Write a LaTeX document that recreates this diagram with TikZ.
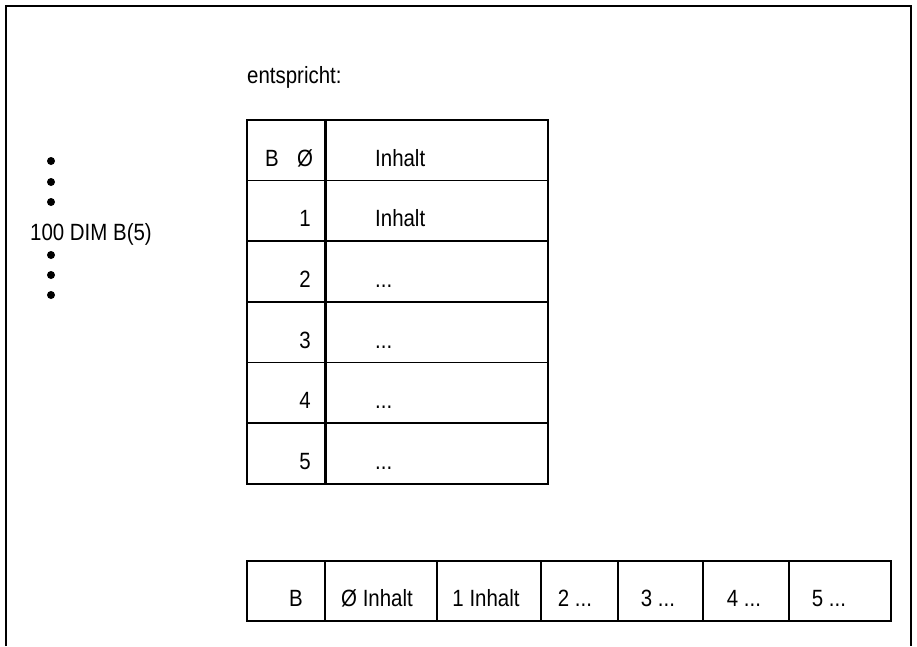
\documentclass[tikz,border=0pt]{standalone}
\usepackage{fontspec}
\setmainfont{Liberation Sans}[FakeStretch=0.87]
\begin{document}
\begin{tikzpicture}[x=1pt,y=-1pt,
  txt/.style={inner sep=0pt, font=\fontsize{23.5}{26}\selectfont},
  cellbox/.style={draw, line width=1.8pt, inner sep=0pt, anchor=north west},
  frame/.style={line width=2.4pt},
  divider/.style={line width=3pt},
  bullet/.style={fill=black}]
\useasboundingbox (0,0) rectangle (917,646);
% outer frame (open at bottom)
\draw[frame] (6,646) -- (6,6) -- (911,6) -- (911,646);
% left program listing
\foreach \yy [count=\i] in {161,182,202,255,275,295}
  \fill[bullet] (51,\yy) circle (4pt);
\node[txt, anchor=base west] (dim) at (30,240) {100 DIM B(5)};
% heading
\node[txt, anchor=base west] (ent) at (247,83) {entspricht:};
% vertical table
\foreach \k in {0,...,5}{
  \pgfmathsetmacro{\top}{119+60.67*\k}
  \node[cellbox, minimum width=78pt, minimum height=60.67pt] (n\k) at (246,\top) {};
  \node[cellbox, minimum width=223pt, minimum height=60.67pt] (c\k) at (324,\top) {};
}
\draw[divider] (n0.north east) -- (n5.south east);
\node[txt, anchor=base] (hB) at (272,166) {B};
\node[txt, anchor=base] (h0) at (305,166) {Ø};
\node[txt, anchor=base west] (hI) at (375,166) {Inhalt};
\foreach \k in {1,...,5}{
  \pgfmathsetmacro{\bl}{119+60.67*\k+47}
  \node[txt, anchor=base east] (r\k) at (311,\bl) {\k};
}
\node[txt, anchor=base west] (i1) at (375,226.7) {Inhalt};
\foreach \k in {2,...,5}{
  \pgfmathsetmacro{\bl}{119+60.67*\k+47}
  \node[txt, anchor=base west] (d\k) at (375,\bl) {...};
}
% horizontal row
\node[cellbox, minimum width=78pt,  minimum height=60pt] (b0) at (246,560) {};
\node[cellbox, minimum width=112pt, minimum height=60pt] (b1) at (324,560) {};
\node[cellbox, minimum width=104pt, minimum height=60pt] (b2) at (436,560) {};
\node[cellbox, minimum width=77pt,  minimum height=60pt] (b3) at (540,560) {};
\node[cellbox, minimum width=85pt,  minimum height=60pt] (b4) at (617,560) {};
\node[cellbox, minimum width=86pt,  minimum height=60pt] (b5) at (702,560) {};
\node[cellbox, minimum width=102pt, minimum height=60pt] (b6) at (788,560) {};
\node[txt, anchor=base] (t0) at (296,606) {B};
\node[txt, anchor=base] (t1) at (377,606) {Ø Inhalt};
\node[txt, anchor=base] (t2) at (486,606) {1 Inhalt};
\node[txt, anchor=base] (t3) at (575,606) {2 ...};
\node[txt, anchor=base] (t4) at (658,606) {3 ...};
\node[txt, anchor=base] (t5) at (744,606) {4 ...};
\node[txt, anchor=base] (t6) at (829,606) {5 ...};
\end{tikzpicture}
\end{document}
